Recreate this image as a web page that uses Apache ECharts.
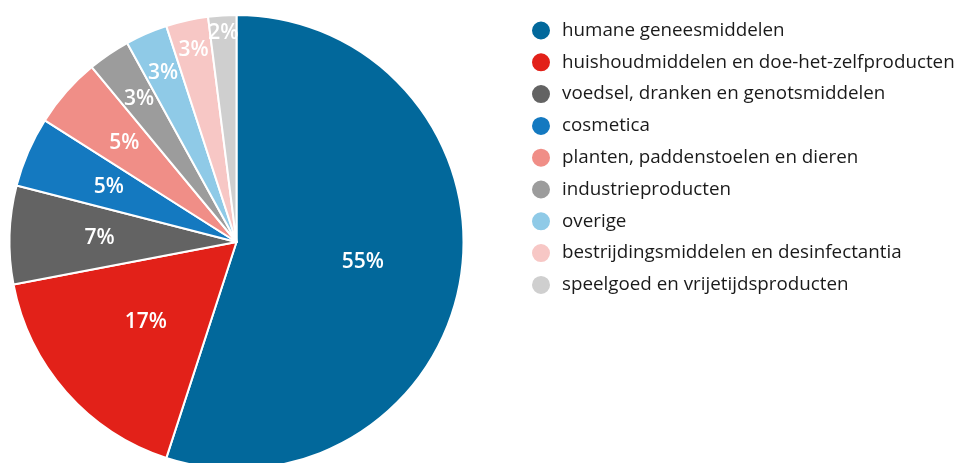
<!DOCTYPE html>
<html><head><meta charset="utf-8">
<script src="https://cdn.jsdelivr.net/npm/echarts@6/dist/echarts.min.js"></script>
<style>html,body{margin:0;padding:0;background:#fff}#c{width:959px;height:463px}</style>
</head><body><div id="c"></div>
<script>
const categories = ["humane geneesmiddelen","huishoudmiddelen en doe-het-zelfproducten","voedsel, dranken en genotsmiddelen","cosmetica","planten, paddenstoelen en dieren","industrieproducten","overige","bestrijdingsmiddelen en desinfectantia","speelgoed en vrijetijdsproducten"];
const values = [55,17,7,5,5,3,3,3,2];
const colors = ["#02689b","#e22119","#636363","#1479c0","#f08e87","#9c9c9c","#8fcae7","#f7c7c5","#cfcfcf"];
// radial label placement (fraction of radius), styling only
const labelRadius = [0.55,0.52,0.59,0.60,0.645,0.75,0.80,0.855,0.91];
const R = 227;
const total = values.reduce((a,b)=>a+b,0);
let cum = 0;
const data = categories.map((name,i)=>{
  const mid = (cum + values[i]/2)/total*2*Math.PI; cum += values[i];
  const dx = Math.sin(mid), dy = -Math.cos(mid);
  const k = (labelRadius[i]-0.5)*R;
  return {name, value: values[i], itemStyle:{color:colors[i]},
    label:{offset:[dx*k, dy*k]}};
});
const chart = echarts.init(document.getElementById('c'));
chart.setOption({
  animation:false,
  legend:{orient:'vertical', left:525, top:14.5, icon:'circle', itemWidth:20, itemHeight:20, itemGap:9.8,
    textStyle:{fontFamily:'Open Sans', fontSize:18.8, lineHeight:20, color:'#1a1a1a', padding:[0,0,0,6]}},
  series:[{type:'pie', center:[236.5,242], radius:[0,R], startAngle:90, clockwise:true,
    avoidLabelOverlap:false, labelLayout:{hideOverlap:false},
    itemStyle:{borderColor:'#fff', borderWidth:2},
    label:{show:true, position:'inside', formatter:'{c}%', color:'#fff', fontFamily:'Open Sans', fontWeight:600, fontSize:21},
    labelLine:{show:false}, emphasis:{disabled:true},
    data}]
});
</script></body></html>
